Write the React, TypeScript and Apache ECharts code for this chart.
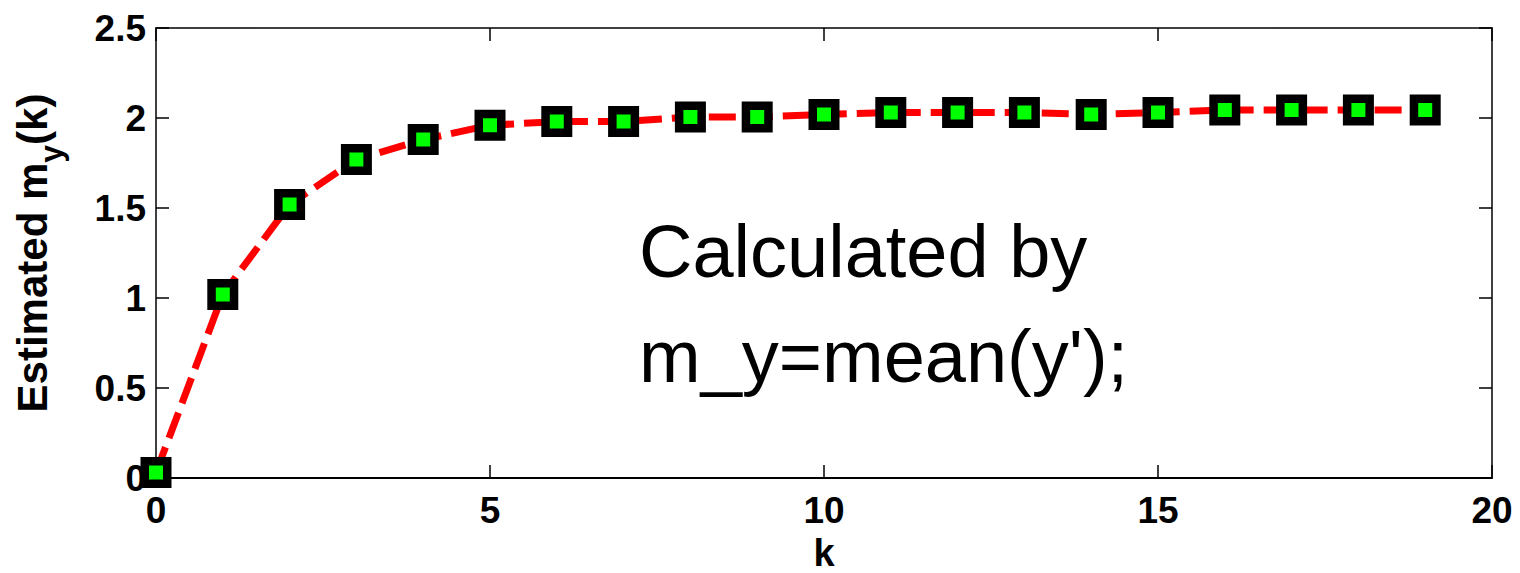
import React, { useEffect, useRef } from "react";
import * as echarts from "echarts";

// Sample index k and the running estimate of the mean m_y(k)
const kValues = [0, 1, 2, 3, 4, 5, 6, 7, 8, 9, 10, 11, 12, 13, 14, 15, 16, 17, 18, 19];
const myEstimates = [
  0.03, 1.02, 1.52, 1.77, 1.88, 1.96, 1.98, 1.98, 2.005, 2.005,
  2.02, 2.03, 2.03, 2.03, 2.02, 2.03, 2.045, 2.045, 2.045, 2.045,
];

// Axis ticks
const xTickStep = 5;
const xRange = [0, 20];
const yTickLabels = ["0", "0.5", "1", "1.5", "2", "2.5"];
const yTickStep = 0.5;

// Annotation lines
const noteLines = ["Calculated by", "m_y=mean(y');"];

const FONT = '"Liberation Sans", Arial, Helvetica, sans-serif';

export default function App() {
  const ref = useRef<HTMLDivElement>(null);

  useEffect(() => {
    if (!ref.current) return;
    const chart = echarts.init(ref.current, undefined, { renderer: "svg" });

    const tickStyle = { show: true, inside: true, length: 13, lineStyle: { color: "#000", width: 1.5 } };
    const yMax = yTickStep * (yTickLabels.length - 1);

    chart.setOption({
      animation: false,
      backgroundColor: "#fff",
      grid: {
        left: 156,
        right: 28,
        top: 28,
        bottom: 95,
        containLabel: false,
        outerBoundsMode: "none",
      },
      xAxis: [
        {
          type: "value",
          min: xRange[0],
          max: xRange[1],
          interval: xTickStep,
          position: "bottom",
          axisLine: { show: true, onZero: false, lineStyle: { color: "#000", width: 2 } },
          axisTick: tickStyle,
          splitLine: { show: false },
          axisLabel: {
            margin: 14,
            color: "#000",
            fontSize: 37,
            fontWeight: "bold",
            fontFamily: FONT,
          },
          name: "k",
          nameLocation: "middle",
          nameGap: 58,
          nameTextStyle: {
            color: "#000",
            fontSize: 38,
            lineHeight: 34,
            fontWeight: "bold",
            fontFamily: FONT,
          },
        },
        {
          type: "value",
          min: xRange[0],
          max: xRange[1],
          interval: xTickStep,
          position: "top",
          axisLine: { show: true, onZero: false, lineStyle: { color: "#000", width: 1.5 } },
          axisTick: tickStyle,
          splitLine: { show: false },
          axisLabel: { show: false },
        },
      ],
      yAxis: [
        {
          type: "value",
          min: 0,
          max: yMax,
          interval: yTickStep,
          position: "left",
          axisLine: { show: true, onZero: false, lineStyle: { color: "#000", width: 1.5 } },
          axisTick: tickStyle,
          splitLine: { show: false },
          axisLabel: {
            margin: 10,
            color: "#000",
            fontSize: 37,
            fontWeight: "bold",
            fontFamily: FONT,
            formatter: (v: number) => yTickLabels[Math.round(v / yTickStep)] ?? String(v),
          },
          name: "{a|Estimated m}{s|y}{a|(k)}",
          nameLocation: "middle",
          nameRotate: 90,
          nameGap: 65,
          nameTextStyle: {
            color: "#000",
            rich: {
              a: {
                fontSize: 42,
                fontWeight: "bold",
                fontFamily: FONT,
                color: "#000",
                lineHeight: 46,
                verticalAlign: "top",
              },
              s: {
                fontSize: 32,
                fontWeight: "bold",
                fontFamily: FONT,
                color: "#000",
                lineHeight: 80,
              },
            },
          },
        },
        {
          type: "value",
          min: 0,
          max: yMax,
          interval: yTickStep,
          position: "right",
          axisLine: { show: true, onZero: false, lineStyle: { color: "#000", width: 1.5 } },
          axisTick: tickStyle,
          splitLine: { show: false },
          axisLabel: { show: false },
        },
      ],
      series: [
        {
          type: "line",
          xAxisIndex: 0,
          yAxisIndex: 0,
          data: kValues.map((k, i) => [k, myEstimates[i]]),
          lineStyle: { color: "#ff0000", width: 7, type: [27, 10], cap: "butt" },
          symbol: "rect",
          symbolSize: 22.5,
          itemStyle: { color: "#00ff00", borderColor: "#000", borderWidth: 8.5 },
          showSymbol: true,
          z: 3,
        },
      ],
      graphic: noteLines.map((line, i) => ({
        type: "text",
        x: 639,
        y: 251 + i * 105,
        z: 10,
        style: {
          text: line,
          font: `74px ${FONT}`,
          fill: "#000",
          align: "left",
          verticalAlign: "middle",
        },
      })),
    });

    return () => chart.dispose();
  }, []);

  return (
    <div
      ref={ref}
      style={{ position: "fixed", left: 0, top: 0, width: 1520, height: 573 }}
    />
  );
}
